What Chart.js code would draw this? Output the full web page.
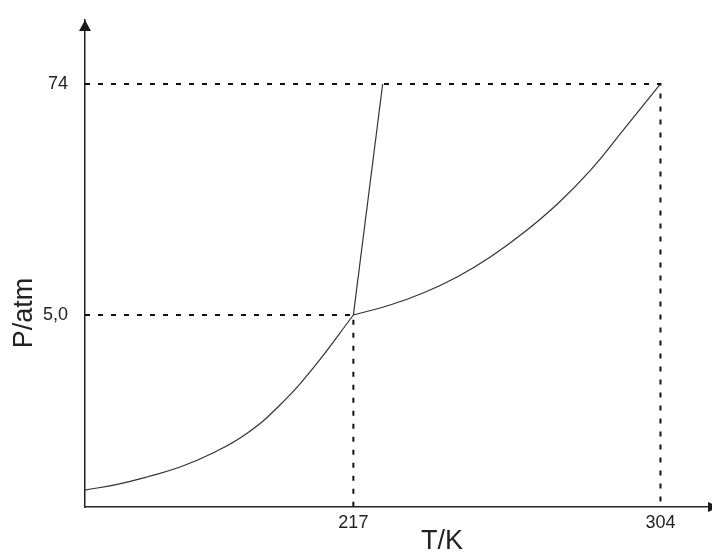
<!DOCTYPE html>
<html><head><meta charset="utf-8">
<script src="https://cdn.jsdelivr.net/npm/chart.js@4.4.0/dist/chart.umd.min.js"></script>
<style>html,body{margin:0;padding:0;background:#fff;}</style>
</head><body>
<canvas id="c" width="712" height="554"></canvas>
<script>
// Sublimation curve (solid-gas)
const sublimationT = [141.0, 149.8, 158.5, 167.9, 177.2, 186.9, 196.2, 205.6, 217];
const sublimationP = [0.649, 0.692, 0.756, 0.849, 1.00, 1.26, 1.75, 2.69, 5.0];
// Melting line (solid-liquid)
const meltingT = [217, 225.3];
const meltingP = [5.0, 74];
// Vaporization curve (liquid-gas)
const vaporT = [217, 227.4, 236.75, 246.4, 255.8, 265.1, 274.8, 284.2, 293.5, 304];
const vaporP = [5.0, 5.62, 6.46, 7.79, 9.83, 13.0, 18.25, 27.1, 43.3, 74];
// Marked points (triple point, critical point)
const markT = [217, 304];
const markP = [5.0, 74];
// Tick labels
const xTickValues = [217, 304];
const xTickLabels = ['217', '304'];
const yTickValues = [5.0, 74];
const yTickLabels = ['5,0', '74'];
const xTitle = 'T/K';
const yTitle = 'P/atm';

const T_MIN = 140.97, T_MAX = 318.6;
const P_MIN = 0.5326, P_MAX = 156.1;

const pts = (xs, ys) => xs.map((x, i) => ({x: x, y: ys[i]}));
const refLine = i => [{x: T_MIN, y: markP[i]}, {x: markT[i], y: markP[i]}, {x: markT[i], y: P_MIN}];

const AXIS = '#222';
const CURVE = '#333';
const FONT = '"Liberation Sans", Arial, sans-serif';

const decor = {
  id: 'decor',
  afterDraw(chart) {
    const ctx = chart.ctx, a = chart.chartArea;
    ctx.save();
    ctx.fillStyle = '#1a1a1a';
    // y arrow
    ctx.beginPath();
    ctx.moveTo(a.left, a.top);
    ctx.lineTo(a.left - 6, a.top + 11);
    ctx.lineTo(a.left + 6, a.top + 11);
    ctx.closePath(); ctx.fill();
    // x arrow
    ctx.beginPath();
    ctx.moveTo(a.right + 7, a.bottom);
    ctx.lineTo(a.right - 4, a.bottom - 5);
    ctx.lineTo(a.right - 4, a.bottom + 5);
    ctx.closePath(); ctx.fill();
    // titles
    ctx.fillStyle = '#222';
    ctx.font = '27px ' + FONT;
    ctx.textAlign = 'center';
    ctx.textBaseline = 'middle';
    ctx.fillText(xTitle, 442, 542);
    ctx.translate(25, 313);
    ctx.rotate(-Math.PI / 2);
    ctx.fillText(yTitle, 0, 0);
    ctx.restore();
  }
};

new Chart(document.getElementById('c'), {
  type: 'line',
  data: {
    datasets: [
      {data: refLine(0), borderColor: '#111', borderWidth: 2, borderDash: [5, 8], pointRadius: 0, tension: 0, clip: false},
      {data: refLine(1), borderColor: '#111', borderWidth: 2, borderDash: [5, 8], pointRadius: 0, tension: 0, clip: false},
      {data: pts(sublimationT, sublimationP), borderColor: CURVE, borderWidth: 1.2, pointRadius: 0, tension: 0.45},
      {data: pts(meltingT, meltingP), borderColor: CURVE, borderWidth: 1.2, pointRadius: 0, tension: 0},
      {data: pts(vaporT, vaporP), borderColor: CURVE, borderWidth: 1.2, pointRadius: 0, tension: 0.45}
    ]
  },
  options: {
    responsive: false,
    animation: false,
    events: [],
    layout: {padding: {top: 20, left: 0, right: 0, bottom: 0}},
    plugins: {legend: {display: false}, tooltip: {enabled: false}},
    scales: {
      x: {
        type: 'linear', min: T_MIN, max: T_MAX,
        grid: {display: false, drawTicks: false},
        border: {display: true, color: AXIS, width: 1.5},
        afterBuildTicks: s => { s.ticks = xTickValues.map(v => ({value: v})); },
        afterFit: s => { s.height = 47; s.paddingLeft = 0; s.paddingRight = 0; },
        ticks: {
          color: '#222', font: {family: FONT, size: 18}, padding: 5, maxRotation: 0, autoSkip: false,
          callback: v => xTickLabels[xTickValues.indexOf(v)]
        }
      },
      y: {
        type: 'logarithmic', min: P_MIN, max: P_MAX,
        grid: {display: false, drawTicks: false},
        border: {display: true, color: AXIS, width: 1.5},
        afterBuildTicks: s => { s.ticks = yTickValues.map(v => ({value: v})); },
        afterFit: s => { s.width = 85; s.paddingTop = 0; s.paddingBottom = 0; },
        ticks: {
          color: '#222', font: {family: FONT, size: 18}, padding: 17, autoSkip: false,
          callback: v => yTickLabels[yTickValues.indexOf(v)]
        }
      }
    }
  },
  plugins: [decor]
});
</script>
</body></html>
